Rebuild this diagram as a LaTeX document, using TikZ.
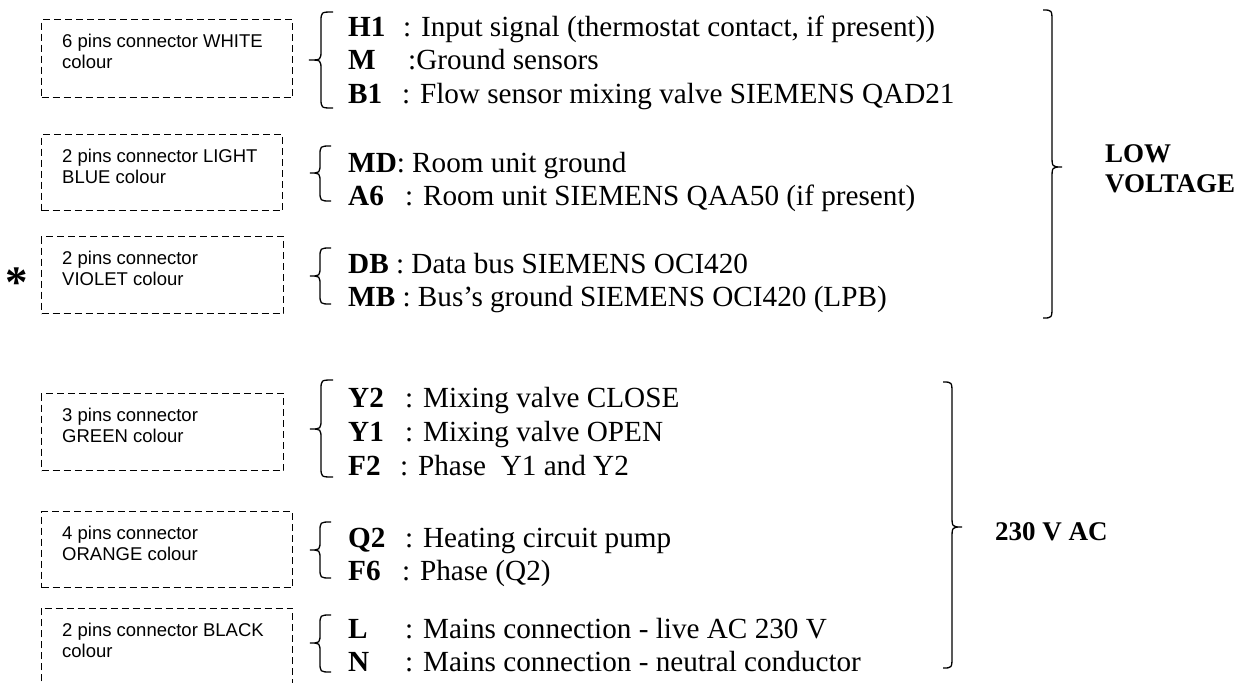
\documentclass[tikz,border=0pt]{standalone}
\usepackage{fontspec}
\setmainfont{Liberation Serif}
\newfontfamily\arialfont{Liberation Sans}
\newcommand\wbraceL[6]{% xtip xv xend ytop ymid ybot
  \draw[bracestyle] (#3,#4) .. controls (#2,#4) .. (#2,#4+10) -- (#2,#5-10)
    .. controls (#2,#5) .. (#1,#5) .. controls (#2,#5) .. (#2,#5+10)
    -- (#2,#6-10) .. controls (#2,#6) .. (#3,#6);}
\newcommand\wbraceR[6]{% xtip xv xend ytop ymid ybot
  \draw[bracestyle] (#3,#4) .. controls (#2,#4) .. (#2,#4+12) -- (#2,#5-12)
    .. controls (#2,#5) .. (#1,#5) .. controls (#2,#5) .. (#2,#5+12)
    -- (#2,#6-12) .. controls (#2,#6) .. (#3,#6);}
\begin{document}
\begin{tikzpicture}[x=1pt,y=-1pt,
  dashbox/.style={draw, dash pattern=on 7pt off 4pt, line width=1pt, inner sep=0, anchor=north west},
  hidbox/.style={inner sep=0, anchor=north west},
  dashline/.style={draw, dash pattern=on 7pt off 4pt, line width=1pt},
  boxtxt/.style={font=\arialfont\fontsize{18.5}{21}\selectfont, anchor=base west, inner sep=0},
  item/.style={font=\fontsize{29.2}{33.5}\selectfont, anchor=base west, inner sep=0},
  grp/.style={font=\bfseries\fontsize{27}{32}\selectfont, anchor=base west, inner sep=0},
  bracestyle/.style={line width=1.3pt}]
\useasboundingbox (0,0) rectangle (1243,683);
\clip (0,0) rectangle (1243,683);

% connector boxes
\node[dashbox, minimum width=251, minimum height=78] (b1) at (41,19) {};
\node[dashbox, minimum width=241, minimum height=76] (b2) at (41,134) {};
\node[dashbox, minimum width=242, minimum height=77] (b3) at (41,236) {};
\node[dashbox, minimum width=242, minimum height=77] (b4) at (41,393) {};
\node[dashbox, minimum width=251, minimum height=76] (b5) at (41,511) {};
\node[hidbox, minimum width=251, minimum height=95] (b6) at (41,608) {};
\draw[dashline] (b6.south west) |- (b6.north east) -- (b6.south east);

\node[boxtxt] (b1a) at (62,47.5) {6 pins connector WHITE};
\node[boxtxt] (b1b) at (62,68.2) {colour};
\node[boxtxt] (b2a) at (62,162.5) {2 pins connector LIGHT};
\node[boxtxt] (b2b) at (62,183.2) {BLUE colour};
\node[boxtxt] (b3a) at (62,264.5) {2 pins connector};
\node[boxtxt] (b3b) at (62,285.2) {VIOLET colour};
\node[boxtxt] (b4a) at (62,421.5) {3 pins connector};
\node[boxtxt] (b4b) at (62,442.2) {GREEN colour};
\node[boxtxt] (b5a) at (62,539.5) {4 pins connector};
\node[boxtxt] (b5b) at (62,560.2) {ORANGE colour};
\node[boxtxt] (b6a) at (62,636.5) {2 pins connector BLACK};
\node[boxtxt] (b6b) at (62,657.2) {colour};

\node[font=\bfseries\fontsize{45}{45}\selectfont, inner sep=0] (star) at (17,283) {*};

% small braces
\wbraceL{309}{321}{333}{12}{60}{108}
\wbraceL{310}{320}{331}{146}{173}{201}
\wbraceL{310}{320}{331}{248}{276}{304}
\wbraceL{310}{321}{333}{380}{429}{477}
\wbraceL{310}{320}{331}{522}{550}{578}
\wbraceL{310}{320}{331}{615}{643}{672}

% items
\node[item] (h1) at (348,36) {\makebox[55pt][l]{\textbf{H1}}: Input signal (thermostat contact, if present))};
\node[item] (m) at (348,69.5) {\makebox[60pt][l]{\textbf{M}}:Ground sensors};
\node[item] (b1l) at (348,103) {\makebox[54pt][l]{\textbf{B1}}: Flow sensor mixing valve SIEMENS QAD21};
\node[item] (md) at (348,172) {\textbf{MD}: Room unit ground};
\node[item] (a6) at (348,205.5) {\makebox[57pt][l]{\textbf{A6}}: Room unit SIEMENS QAA50 (if present)};
\node[item] (db) at (348,273) {\textbf{DB} : Data bus SIEMENS OCI420};
\node[item] (mb) at (348,306.5) {\textbf{MB} : Bus’s ground SIEMENS OCI420 (LPB)};
\node[item] (y2) at (348,407) {\makebox[57pt][l]{\textbf{Y2}}: Mixing valve CLOSE};
\node[item] (y1) at (348,441) {\makebox[57pt][l]{\textbf{Y1}}: Mixing valve OPEN};
\node[item] (f2) at (348,475) {\makebox[52pt][l]{\textbf{F2}}: Phase\ \ Y1 and Y2};
\node[item] (q2) at (348,547) {\makebox[57pt][l]{\textbf{Q2}}: Heating circuit pump};
\node[item] (f6) at (348,580.5) {\makebox[54pt][l]{\textbf{F6}}: Phase (Q2)};
\node[item] (l) at (348,638) {\makebox[57pt][l]{\textbf{L}}: Mains connection - live AC 230 V};
\node[item] (n) at (348,671) {\makebox[57pt][l]{\textbf{N}}: Mains connection - neutral conductor};

% big braces
\wbraceR{1062}{1052}{1043}{10}{167}{318}
\wbraceR{962}{952}{943}{382}{527}{668}

\node[grp] (lv1) at (1105,162) {LOW};
\node[grp] (lv2) at (1105,192) {VOLTAGE};
\node[grp] (ac) at (995,540) {230 V AC};
\end{tikzpicture}
\end{document}
